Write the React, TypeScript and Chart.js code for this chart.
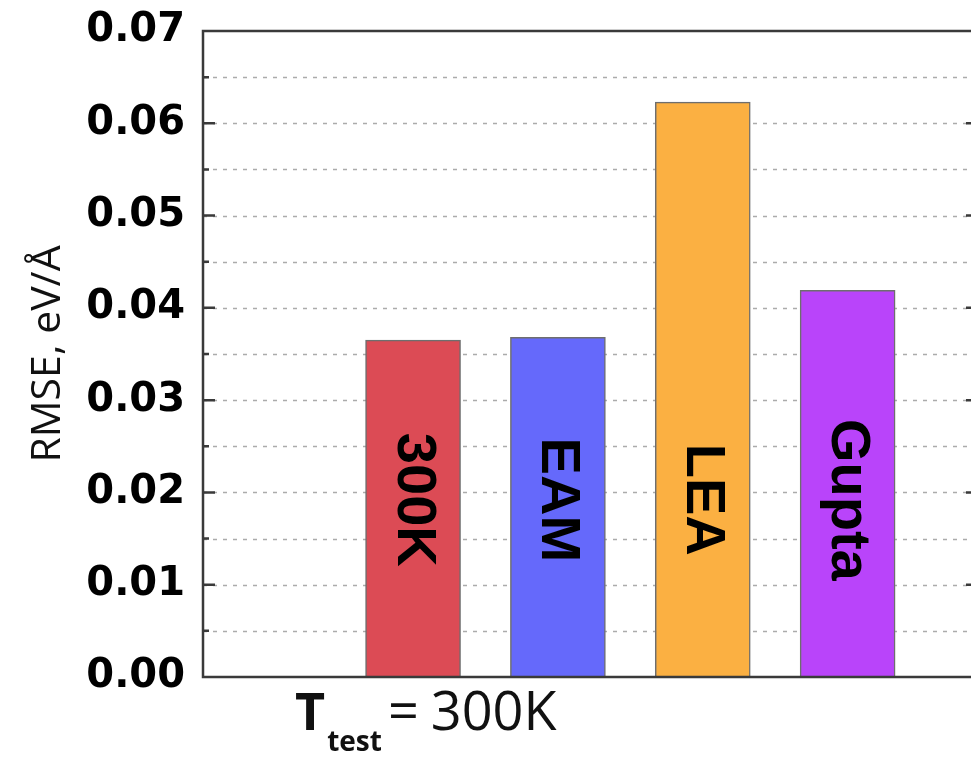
import React, { useEffect, useRef } from "react";
import { Chart, registerables } from "chart.js";

Chart.register(...registerables);

// Potential models compared against DFT forces at the 300K test temperature
const models = ["300K", "EAM", "LEA", "Gupta"];
const rmse = [0.0365, 0.0368, 0.0623, 0.0419];
const barColors = ["#dc4b55", "#6569fb", "#fbb042", "#b944fa"];

const yMin = 0;
const yMax = 0.07;
const yStep = 0.01;

const yTitle = "RMSE, eV/Å";
const xTitleMain = "T";
const xTitleSub = "test";
const testTemperature = "300K";

// height (in data units) at which the model names are centred inside the bars
const labelLevel = 0.0192;

const framePlugin = {
  id: "frameAndGrid",
  beforeDatasetsDraw(chart: any) {
    const { ctx, chartArea: a, scales } = chart;
    const y = scales.y;
    ctx.save();
    ctx.setLineDash([4, 6]);
    ctx.strokeStyle = "#ababab";
    ctx.lineWidth = 1.5;
    const steps = Math.round((yMax - yMin) / (yStep / 2));
    for (let i = 1; i < steps; i++) {
      const py = Math.round(y.getPixelForValue(yMin + (i * yStep) / 2)) + 0.5;
      ctx.beginPath();
      ctx.moveTo(a.left, py);
      ctx.lineTo(a.right, py);
      ctx.stroke();
    }
    ctx.restore();
  },
  afterDatasetsDraw(chart: any) {
    const { ctx, chartArea: a, scales } = chart;
    const y = scales.y;
    ctx.save();
    ctx.setLineDash([]);
    ctx.strokeStyle = "#3a3a3a";
    ctx.lineWidth = 2.5;
    // inward tick marks on both sides
    const steps = Math.round((yMax - yMin) / (yStep / 2));
    for (let i = 1; i < steps; i++) {
      const py = y.getPixelForValue(yMin + (i * yStep) / 2);
      const len = i % 2 === 0 ? 12 : 6;
      ctx.beginPath();
      ctx.moveTo(a.left, py);
      ctx.lineTo(a.left + len, py);
      ctx.moveTo(a.right, py);
      ctx.lineTo(a.right - len, py);
      ctx.stroke();
    }
    ctx.strokeRect(a.left, a.top, a.right - a.left, a.bottom - a.top);
    ctx.restore();

    // model names written down the bars
    const meta = chart.getDatasetMeta(0);
    const ly = y.getPixelForValue(labelLevel);
    ctx.save();
    ctx.fillStyle = "#000";
    ctx.font = 'bold 56px "Liberation Sans", Arial, sans-serif';
    ctx.textAlign = "center";
    ctx.textBaseline = "middle";
    meta.data.forEach((bar: any, i: number) => {
      ctx.save();
      ctx.translate(bar.x, ly);
      ctx.rotate(Math.PI / 2);
      ctx.fillText(models[i], 0, 0);
      ctx.restore();
    });
    ctx.restore();

    // axis titles
    ctx.save();
    ctx.fillStyle = "#111";
    ctx.font = '41px "Open Sans", sans-serif';
    ctx.textAlign = "center";
    ctx.textBaseline = "alphabetic";
    ctx.translate(60, (a.top + a.bottom) / 2);
    ctx.rotate(-Math.PI / 2);
    ctx.fillText(yTitle, 0, 0);
    ctx.restore();

    const x0 = meta.data[0].x - 118;
    const base = 730;
    ctx.save();
    ctx.fillStyle = "#111";
    ctx.textAlign = "left";
    ctx.textBaseline = "alphabetic";
    ctx.font = 'bold 52px "Open Sans", sans-serif';
    ctx.fillText(xTitleMain, x0, base);
    const tW = ctx.measureText(xTitleMain).width;
    ctx.font = 'bold 28px "Open Sans", sans-serif';
    ctx.fillText(xTitleSub, x0 + tW + 2, base + 21);
    const sW = ctx.measureText(xTitleSub).width;
    ctx.font = '54px "Open Sans", sans-serif';
    const eqX = x0 + tW + 2 + sW + 6;
    ctx.fillText("=", eqX, base);
    const eqW = ctx.measureText("=").width;
    ctx.fillText(testTemperature, eqX + eqW + 12, base);
    ctx.restore();
  },
};

export default function App() {
  const canvasRef = useRef<HTMLCanvasElement | null>(null);

  useEffect(() => {
    const canvas = canvasRef.current;
    if (!canvas) return;
    const chart = new Chart(canvas, {
      type: "bar",
      data: {
        datasets: [
          {
            data: models.map((m, i) => ({ x: i + 1, y: rmse[i] })),
            backgroundColor: barColors,
            borderColor: "#6e6e6e",
            borderWidth: 1.5,
            barThickness: 95,
          },
        ],
      },
      options: {
        responsive: false,
        animation: false,
        devicePixelRatio: 1,
        layout: { padding: { top: 31, right: 22, left: 0, bottom: 0 } },
        plugins: {
          legend: { display: false },
          tooltip: { enabled: false },
        },
        scales: {
          x: {
            type: "linear",
            min: -0.45,
            max: 4.9,
            offset: false,
            grid: { display: false, drawTicks: false },
            border: { display: false },
            ticks: { display: false },
            afterFit: (s: any) => {
              s.height = 80;
              s.paddingLeft = 0;
              s.paddingRight = 0;
            },
          },
          y: {
            min: yMin,
            max: yMax,
            ticks: {
              stepSize: yStep,
              autoSkip: false,
              color: "#000",
              padding: 18,
              font: { family: '"DejaVu Sans", sans-serif', size: 40, weight: "bold" },
              callback: (v: any) => Number(v).toFixed(2),
            },
            grid: { display: false, drawTicks: false },
            border: { display: false },
            afterFit: (s: any) => {
              s.width = 203;
              s.paddingTop = 0;
              s.paddingBottom = 0;
            },
          },
        },
      } as any,
      plugins: [framePlugin],
    });
    return () => chart.destroy();
  }, []);

  return (
    <div
      style={{
        position: "fixed",
        left: 0,
        top: 0,
        width: 971,
        height: 757,
        overflow: "hidden",
        background: "#fff",
      }}
    >
      <canvas ref={canvasRef} width={1000} height={757} style={{ display: "block" }} />
    </div>
  );
}
